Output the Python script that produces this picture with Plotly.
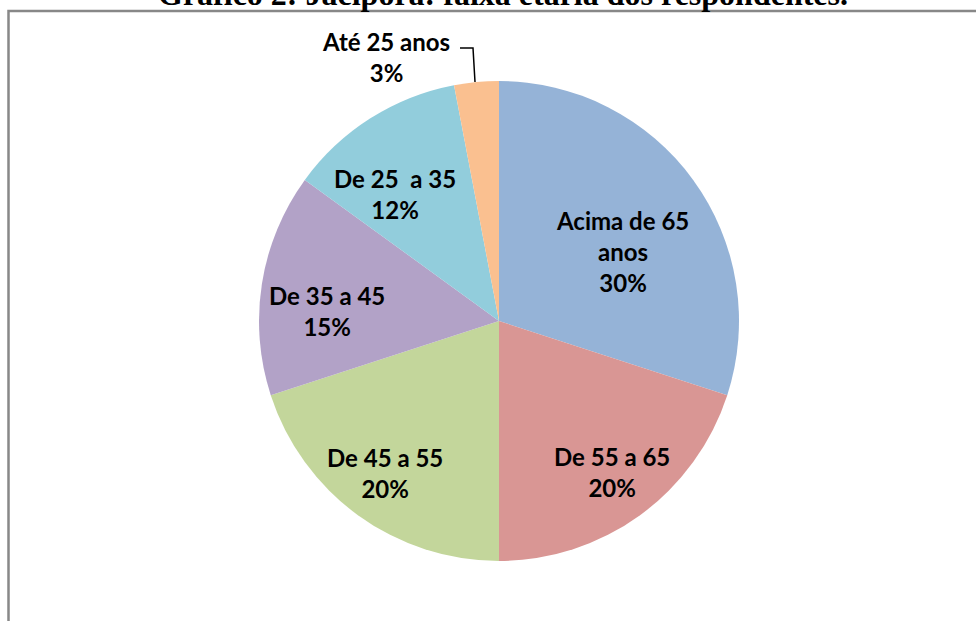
import plotly.graph_objects as go

# ---- data ----
categories = ["Acima de 65 anos", "De 55 a 65", "De 45 a 55", "De 35 a 45", "De 25  a 35", "Até 25 anos"]
values = [30, 20, 20, 15, 12, 3]
title_text = "Gráfico 2: Jacipora: faixa etária dos respondentes."

# ---- style ----
colors = ["#95B3D7", "#D99694", "#C3D69B", "#B2A2C7", "#92CDDC", "#FAC090"]
W, H = 976, 621
# label block centres in pixels (layout only)
label_px = [(622, 251), (612, 472), (385, 473), (327, 311), (395, 194), (386, 57)]
display_names = ["Acima de 65<br>anos", "De 55 a 65", "De 45 a 55", "De 35 a 45",
                 "De 25\u00a0 a 35", "Até 25 anos"]

def px(x, y):
    return x / W, 1 - y / H

total = sum(values)
fig = go.Figure()
fig.add_trace(go.Pie(
    labels=categories, values=values, sort=False, direction="clockwise", rotation=0,
    marker=dict(colors=colors, line=dict(width=0)),
    textinfo="none", hoverinfo="label+percent", showlegend=False,
    domain=dict(x=[259 / W, 739 / W], y=[60 / H, 540 / H]),
))

annotations = []
for name, v, (lx, ly) in zip(display_names, values, label_px):
    pct = round(v / total * 100)
    ax, ay = px(lx, ly)
    annotations.append(dict(
        text=f"<b>{name}<br>{pct}%</b>", x=ax, y=ay, xref="paper", yref="paper",
        xanchor="center", yanchor="middle", showarrow=False, align="center",
        font=dict(family="Lato, Carlito, sans-serif", size=24, color="#000000"),
    ))

tx, ty = px(503, -5.5)
annotations.append(dict(
    text=f"<b>{title_text}</b>", x=tx, y=ty, xref="paper", yref="paper",
    xanchor="center", yanchor="middle", showarrow=False,
    font=dict(family="Liberation Serif, Times New Roman, serif", size=32, color="#000000"),
))

# frame and leader line
x0, y0 = px(8.5, 11)
xb, yb = px(8.5, 630)
xr, _ = px(990, 11)
p1 = px(460, 48); p2 = px(473, 48); p3 = px(475, 82)
shapes = [
    dict(type="path", xref="paper", yref="paper",
         path=f"M {xb} {yb} L {x0} {y0} L {xr} {y0}",
         line=dict(color="#888888", width=2.5)),
    dict(type="path", xref="paper", yref="paper",
         path=f"M {p1[0]} {p1[1]} L {p2[0]} {p2[1]} L {p3[0]} {p3[1]}",
         line=dict(color="#000000", width=1.5)),
]

fig.update_layout(
    width=W, height=H, margin=dict(l=0, r=0, t=0, b=0),
    paper_bgcolor="white", plot_bgcolor="white",
    annotations=annotations, shapes=shapes,
)
fig.write_html("out.html", config={"displayModeBar": False},
               post_script="document.body.style.margin='0';")
